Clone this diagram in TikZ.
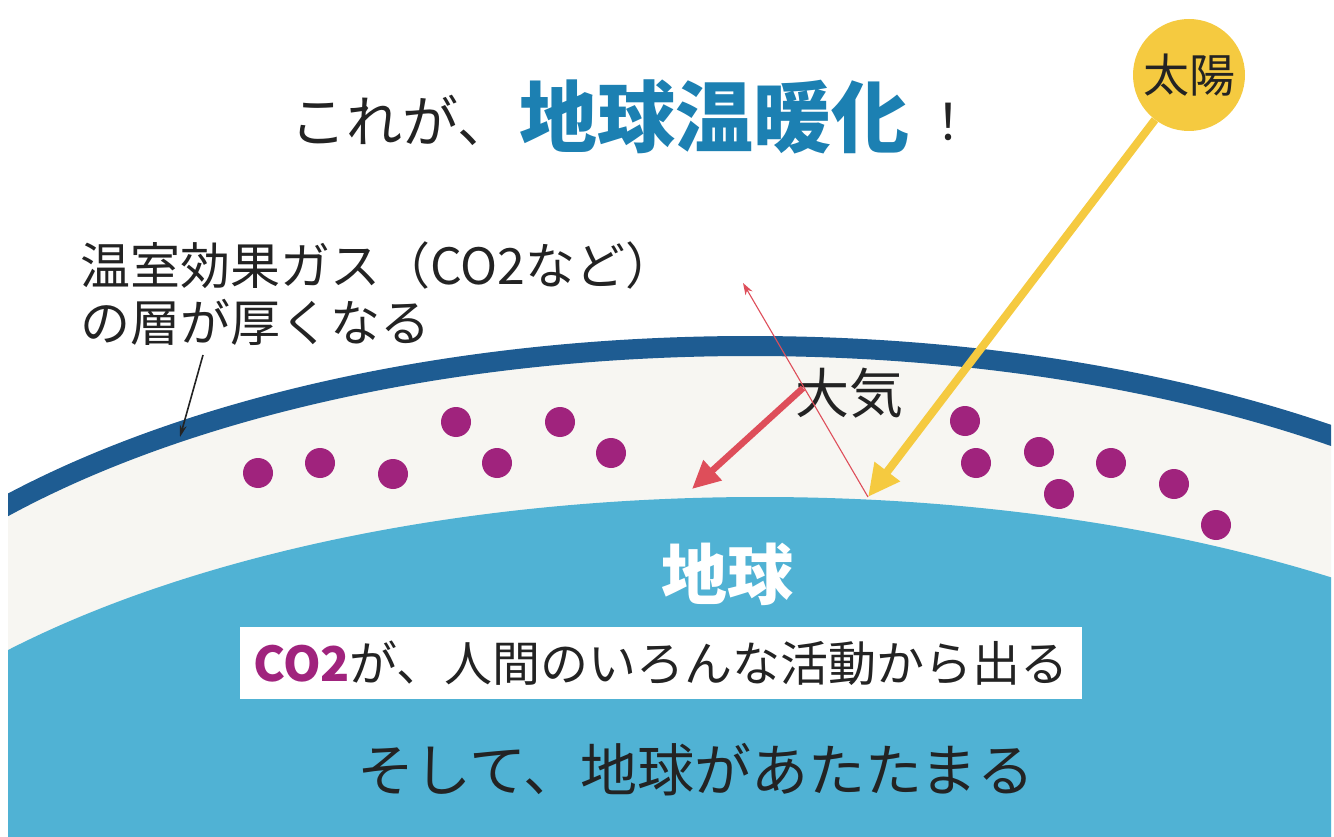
\documentclass[tikz,border=0pt]{standalone}
\usepackage{fontspec}
\newfontfamily\jp{Noto Sans CJK JP}
\usetikzlibrary{arrows.meta}
\definecolor{earthblue}{RGB}{80,178,212}
\definecolor{bandblue}{RGB}{30,92,146}
\definecolor{airwhite}{RGB}{247,246,242}
\definecolor{dotpurple}{RGB}{160,35,125}
\definecolor{sunyellow}{RGB}{245,202,64}
\definecolor{heatred}{RGB}{222,78,90}
\definecolor{titleblue}{RGB}{28,128,178}
\definecolor{inkblack}{RGB}{35,35,35}
\begin{document}
\begin{tikzpicture}[x=1pt,y=-1pt,
  jptext/.style={font=\jp, text=inkblack, inner sep=0pt},
  molecule/.style={fill=dotpurple},
  sunray/.style={draw=sunyellow, line width=8pt, -{Triangle[length=32pt,width=30pt]}},
  heatray/.style={draw=heatred, line width=6.5pt, -{Triangle[length=28pt,width=26pt]}},
  thinray/.style={draw=heatred, line width=1.1pt, -{Stealth[length=12pt,width=8pt]}},
  pointer/.style={draw=inkblack, line width=1.6pt, -{Stealth[length=12pt,width=7pt]}}]
\useasboundingbox (0,0) rectangle (1334,837);
\fill[white] (0,0) rectangle (1334,837);

% atmosphere, its outer layer and the earth
\begin{scope}
  \clip (8,0) rectangle (1331,837);
  \fill[airwhite] (750,816) ellipse [x radius=990pt, y radius=470pt];
  \draw[bandblue, line width=20pt] (750,816) ellipse [x radius=990pt, y radius=470pt];
  \fill[earthblue] (760,946) ellipse [x radius=1000pt, y radius=449pt];
\end{scope}

% greenhouse gas molecules
\foreach \p in {(258,473),(320,463),(393,474),(456,422),(497,463),(560,422),(611,453),
                (965,421),(976,463),(1039,452),(1059,494),(1111,463),(1174,484),(1216,525)}
  \fill[molecule] \p circle[radius=15pt];

% title
\node[jptext, font=\jp\fontsize{56}{56}\selectfont] (t1) at (402,120) {これが、};
\node[jptext, text=titleblue, font=\jp\bfseries\fontsize{78}{78}\selectfont] (t2) at (714,117) {地球温暖化};
\node[jptext, font=\jp\fontsize{50}{50}\selectfont] (t3) at (948,122) {！};

% sun
\node[circle, fill=sunyellow, minimum size=112pt, inner sep=0pt, text=inkblack,
      font=\jp\fontsize{46}{46}\selectfont] (sun) at (1189,75) {太陽};

% labels
\node[jptext, align=left, anchor=west, font=\jp\fontsize{50}{57}\selectfont] (gas) at (80,294)
  {温室効果ガス（CO2など）\\の層が厚くなる};
\node[jptext, font=\jp\fontsize{54}{54}\selectfont] (air) at (849,393) {大気};
\node[jptext, text=white, font=\jp\bfseries\fontsize{66}{66}\selectfont] (earth) at (727,574) {地球};
\node[fill=white, minimum width=842pt, minimum height=72pt, inner sep=0pt, text=inkblack,
      font=\jp\fontsize{48}{48}\selectfont] (co2) at (661,663)
  {{\bfseries\color{dotpurple}CO2}が、人間のいろんな活動から出る};
\node[jptext, font=\jp\fontsize{57}{57}\selectfont] (warm) at (696,770) {そして、地球があたたまる};

% rays
\coordinate (hit) at (868,497);
\coordinate (escape) at (743,283);
\coordinate (heatstart) at (803,388);
\coordinate (heatend) at (692,489);
\coordinate (ptrstart) at (203,355);
\coordinate (ptrend) at (180,437);
\draw[sunray] (sun) -- (hit);
\draw[heatray] (heatstart) -- (heatend);
\draw[thinray] (hit) -- (escape);
\draw[pointer] (ptrstart) -- (ptrend);
\end{tikzpicture}
\end{document}
